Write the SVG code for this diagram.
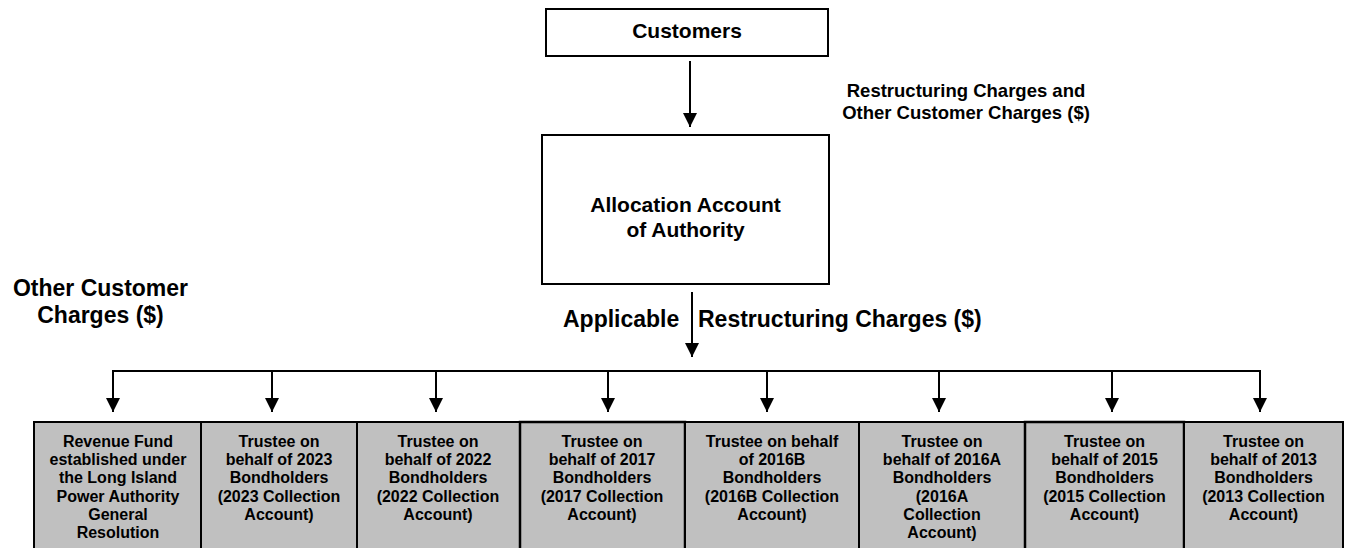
<svg xmlns="http://www.w3.org/2000/svg" width="1349" height="548" viewBox="0 0 1349 548">
<defs>
<style>
text{font-family:"Liberation Sans",Arial,sans-serif;font-weight:bold;fill:#000}
.top{fill:#fff;stroke:#000;stroke-width:2}
.acct{fill:#c0c0c0;stroke:#000;stroke-width:2}
.bt{font-size:16px;text-anchor:middle}
.ln{stroke:#000;stroke-width:2;fill:none}
</style>
<marker id="ah" markerWidth="14" markerHeight="14" refX="14" refY="7" orient="auto" markerUnits="userSpaceOnUse">
<path d="M0,0 L14,7 L0,14 Z" fill="#000"/>
</marker>
</defs>
<rect width="1349" height="548" fill="#fff"/>

<g id="customers">
<rect class="top" x="546" y="9" width="282" height="47"/>
<text x="687" y="38" font-size="21" text-anchor="middle">Customers</text>
</g>

<g id="allocation">
<rect class="top" x="542" y="135" width="287" height="149"/>
<text x="685.5" y="212" font-size="21" text-anchor="middle">Allocation Account</text>
<text x="685.5" y="237" font-size="21" text-anchor="middle">of Authority</text>
</g>

<g id="labels">
<text x="966" y="97" font-size="18.5" text-anchor="middle">Restructuring Charges and</text>
<text x="966" y="119" font-size="18.5" text-anchor="middle">Other Customer Charges ($)</text>
<text x="100.5" y="296" font-size="23" text-anchor="middle">Other Customer</text>
<text x="100.5" y="323" font-size="23" text-anchor="middle">Charges ($)</text>
<text x="563" y="327" font-size="23">Applicable</text>
<text x="698" y="327" font-size="23">Restructuring Charges ($)</text>
</g>

<g id="connectors">
<line class="ln" x1="690" y1="61" x2="690" y2="127" marker-end="url(#ah)"/>
<line class="ln" x1="692" y1="292" x2="692" y2="357" marker-end="url(#ah)"/>
<line class="ln" x1="113" y1="371" x2="1260" y2="371"/>
<line class="ln" x1="113" y1="370" x2="113" y2="412" marker-end="url(#ah)"/>
<line class="ln" x1="272" y1="370" x2="272" y2="412" marker-end="url(#ah)"/>
<line class="ln" x1="436" y1="370" x2="436" y2="412" marker-end="url(#ah)"/>
<line class="ln" x1="608" y1="370" x2="608" y2="412" marker-end="url(#ah)"/>
<line class="ln" x1="767" y1="370" x2="767" y2="412" marker-end="url(#ah)"/>
<line class="ln" x1="939" y1="370" x2="939" y2="412" marker-end="url(#ah)"/>
<line class="ln" x1="1112" y1="370" x2="1112" y2="412" marker-end="url(#ah)"/>
<line class="ln" x1="1260" y1="370" x2="1260" y2="412" marker-end="url(#ah)"/>
</g>

<g id="revenue-fund">
<rect class="acct" x="34" y="422" width="167" height="140"/>
<text class="bt" x="118" y="446.7">Revenue Fund</text>
<text class="bt" x="118" y="465">established under</text>
<text class="bt" x="118" y="483.3">the Long Island</text>
<text class="bt" x="118" y="501.7">Power Authority</text>
<text class="bt" x="118" y="520">General</text>
<text class="bt" x="118" y="538.3">Resolution</text>
</g>

<g id="trustee-2023">
<rect class="acct" x="201" y="422" width="156" height="140"/>
<text class="bt" x="279" y="446.7">Trustee on</text>
<text class="bt" x="279" y="465">behalf of 2023</text>
<text class="bt" x="279" y="483.3">Bondholders</text>
<text class="bt" x="279" y="501.7">(2023 Collection</text>
<text class="bt" x="279" y="520">Account)</text>
</g>

<g id="trustee-2022">
<rect class="acct" x="357" y="422" width="163" height="140"/>
<text class="bt" x="438" y="446.7">Trustee on</text>
<text class="bt" x="438" y="465">behalf of 2022</text>
<text class="bt" x="438" y="483.3">Bondholders</text>
<text class="bt" x="438" y="501.7">(2022 Collection</text>
<text class="bt" x="438" y="520">Account)</text>
</g>

<g id="trustee-2017">
<rect class="acct" x="520" y="422" width="165" height="140" style="stroke-width:2.5"/>
<text class="bt" x="602" y="446.7">Trustee on</text>
<text class="bt" x="602" y="465">behalf of 2017</text>
<text class="bt" x="602" y="483.3">Bondholders</text>
<text class="bt" x="602" y="501.7">(2017 Collection</text>
<text class="bt" x="602" y="520">Account)</text>
</g>

<g id="trustee-2016B">
<rect class="acct" x="685" y="422" width="174" height="140"/>
<text class="bt" x="772" y="446.7">Trustee on behalf</text>
<text class="bt" x="772" y="465">of 2016B</text>
<text class="bt" x="772" y="483.3">Bondholders</text>
<text class="bt" x="772" y="501.7">(2016B Collection</text>
<text class="bt" x="772" y="520">Account)</text>
</g>

<g id="trustee-2016A">
<rect class="acct" x="859" y="422" width="166" height="140"/>
<text class="bt" x="942" y="446.7">Trustee on</text>
<text class="bt" x="942" y="465">behalf of 2016A</text>
<text class="bt" x="942" y="483.3">Bondholders</text>
<text class="bt" x="942" y="501.7">(2016A</text>
<text class="bt" x="942" y="520">Collection</text>
<text class="bt" x="942" y="538.3">Account)</text>
</g>

<g id="trustee-2015">
<rect class="acct" x="1025" y="422" width="159" height="140" style="stroke-width:2.5"/>
<text class="bt" x="1104.5" y="446.7">Trustee on</text>
<text class="bt" x="1104.5" y="465">behalf of 2015</text>
<text class="bt" x="1104.5" y="483.3">Bondholders</text>
<text class="bt" x="1104.5" y="501.7">(2015 Collection</text>
<text class="bt" x="1104.5" y="520">Account)</text>
</g>

<g id="trustee-2013">
<rect class="acct" x="1184" y="422" width="159" height="140"/>
<text class="bt" x="1263.5" y="446.7">Trustee on</text>
<text class="bt" x="1263.5" y="465">behalf of 2013</text>
<text class="bt" x="1263.5" y="483.3">Bondholders</text>
<text class="bt" x="1263.5" y="501.7">(2013 Collection</text>
<text class="bt" x="1263.5" y="520">Account)</text>
</g>
</svg>
